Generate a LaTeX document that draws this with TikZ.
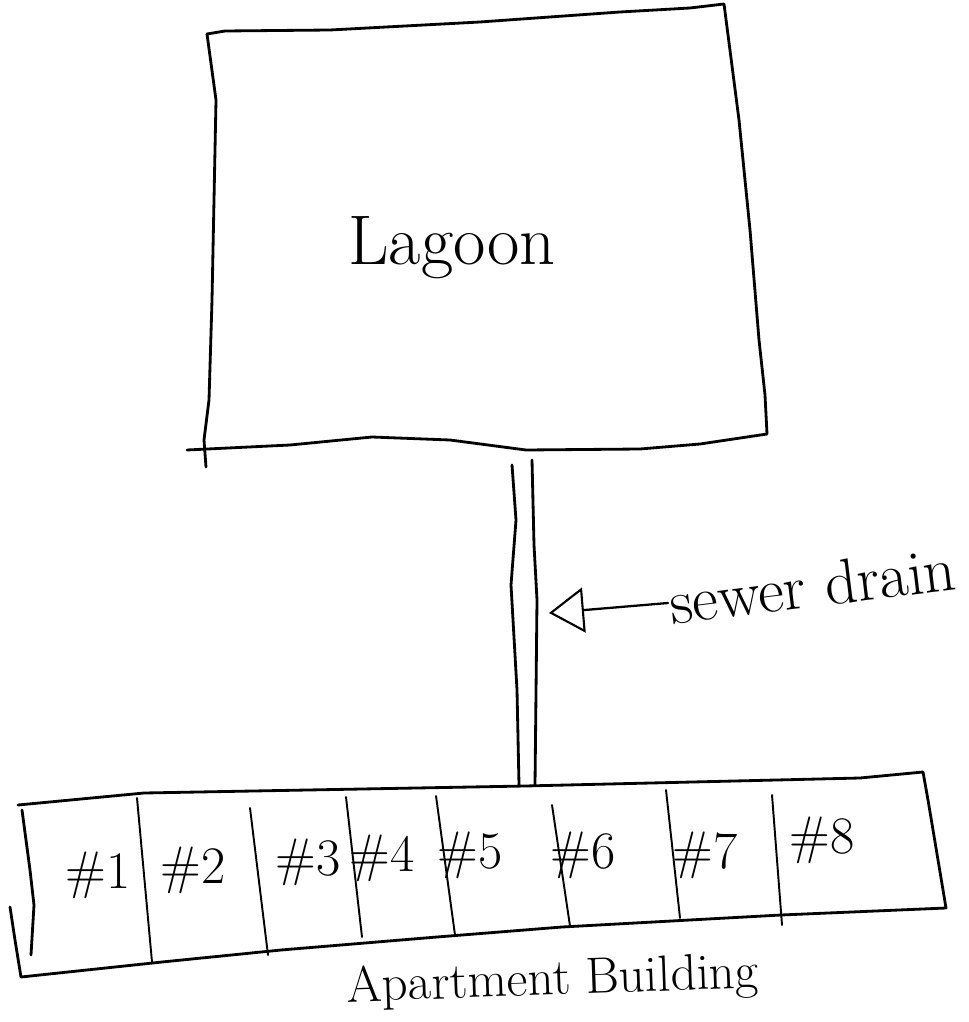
\documentclass[tikz,border=0pt]{standalone}
\usetikzlibrary{arrows.meta, positioning}
\tikzset{
  every picture/.style={line width=1.6pt, line cap=round, line join=round},
  sketch/.style={draw=black, line width=1.6pt},
  thin sketch/.style={draw=black, line width=1.1pt},
  lbl/.style={inner sep=0pt, font=\fontsize{#1}{#1}\selectfont},
  lbl/.default=30,
  pointer/.style={-{Triangle[open, length=7mm, width=9mm, line width=1.2pt]}, line width=1.3pt},
}

\begin{document}
\begin{tikzpicture}[x=0.2mm, y=-0.2mm]
  \useasboundingbox (0,0) rectangle (968,1022);
  % lagoon
  \draw[sketch] (207,34) -- (225,31) -- (330,30) -- (480,22) -- (620,12) -- (690,8) -- (724,4)
    -- (739,120) -- (750,230) -- (759,340) -- (765,395) -- (767,434)
    -- (700,444) -- (640,449) -- (526,450) -- (450,440) -- (372,437) -- (290,445) -- (187,450);
  \draw[sketch] (207,34) -- (216,100) -- (214,200) -- (212,300) -- (209,400) -- (204,440) -- (206,467);
  \node[lbl=40] (lagoon) at (452,248) {Lagoon};
  % sewer drain
  \coordinate (pipeLtop) at (512,465);  \coordinate (pipeLbot) at (519,785);
  \coordinate (pipeRtop) at (532,460);  \coordinate (pipeRbot) at (535,785);
  \draw[sketch] (pipeLtop) -- (516,520) -- (511,585) -- (517,690) -- (pipeLbot);
  \draw[sketch] (pipeRtop) -- (534,545) -- (537,600) -- (pipeRbot);
  \node[lbl=36, anchor=west, rotate=7] (drain) at (668,603) {sewer drain};
  \coordinate (pipe) at (549,613);
  \draw[pointer] (drain.west) -- (pipe);
  % apartment building
  \draw[sketch] (18,805) -- (144,793) -- (525,786) -- (860,778) -- (923,772)
    -- (928,800) -- (938,860) -- (946,908)
    -- (781,915) -- (562,927) -- (437,937) -- (281,950) -- (162,962) -- (21,977)
    -- (15,940) -- (10,907);
  \draw[sketch] (22,810) -- (30,870) -- (34,905) -- (31,955);
  \foreach \xa/\ya/\xb/\yb in {137/798/152/962, 250/808/268/955, 346/797/362/937,
      436/796/455/935, 552/805/570/926, 666/790/680/918, 772/795/782/925}
    \draw[thin sketch] (\xa,\ya) -- (\xb,\yb);
  \foreach \n/\x/\y in {1/98/875, 2/193/870, 3/308/862, 4/382/858,
      5/470/855, 6/583/855, 7/705/855, 8/822/840}
    \node[lbl=30] (unit\n) at (\x,\y) {\#\n};
  \node[lbl=29, rotate=2] (building) at (553,982) {Apartment Building};
\end{tikzpicture}
\end{document}
